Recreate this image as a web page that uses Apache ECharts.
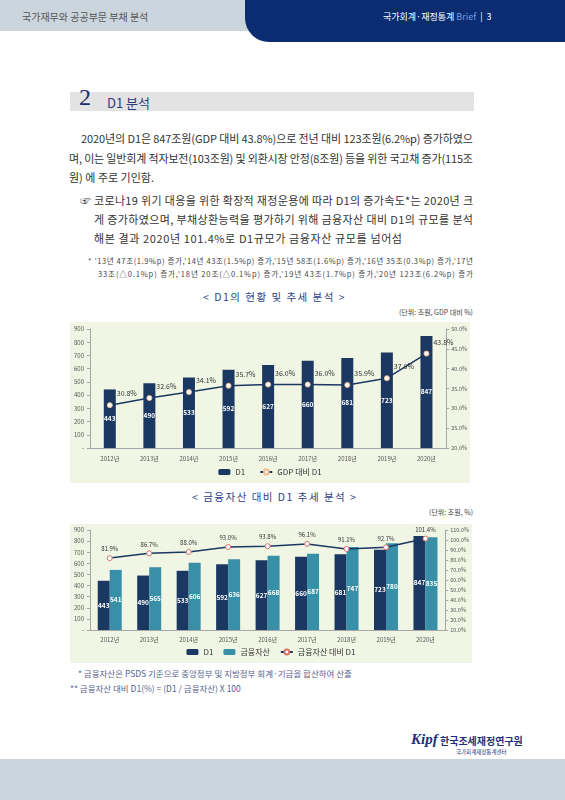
<!DOCTYPE html>
<html>
<head>
<meta charset="utf-8">
<script src="https://cdn.jsdelivr.net/npm/echarts@6/dist/echarts.min.js"></script>
<style>
  body { margin: 0; background: #fff; }
  #page { position: relative; width: 565px; height: 800px; overflow: hidden;
    font-family: "Noto Sans CJK KR", "Noto Sans", sans-serif; color: #333; }
  .abs { position: absolute; white-space: nowrap; }
  .ln { position: absolute; white-space: nowrap; font-size: 11px; line-height: 14px; color: #333; }
  .fn { font-size: 7.5px; line-height: 10px; color: #444; }
  .ttl { font-size: 10.5px; color: #2d3f86; letter-spacing: 1.5px; }
  .unit { font-size: 7px; color: #444; }
  .chart { position: absolute; background: #f1f6e4; }
</style>
</head>
<body>
<div id="page">
  <!-- 머리말 -->
  <div class="abs" style="left:0;top:0;width:262px;height:31px;background:#cbd5de;"></div>
  <div class="abs" style="left:245px;top:0;width:320px;height:42px;background:#0b2c70;border-bottom-left-radius:24px;"></div>
  <div class="abs" style="left:22px;top:9px;font-size:10px;color:#555;">국가재무와 공공부문 부채 분석</div>
  <div class="abs" style="left:383px;top:10px;font-size:9px;color:#fff;">국가회계·재정통계 <span style="color:#6f9fe6;">Brief</span> &nbsp;|&nbsp; 3</div>

  <!-- 절 제목 -->
  <div class="abs" style="left:70px;top:92px;width:404px;height:19px;background:#e3e3e3;"></div>
  <div class="abs" style="left:79px;top:84px;font-size:24px;font-family:'Liberation Serif',serif;color:#1d2c6a;">2</div>
  <div class="abs" style="left:107px;top:93px;font-size:13px;color:#2a3a7a;">D1 분석</div>

  <!-- 본문 -->
  <div class="ln" data-w="392" style="left:81px;top:131px;">2020년의 D1은 847조원(GDP 대비 43.8%)으로 전년 대비 123조원(6.2%p) 증가하였으</div>
  <div class="ln" data-w="404" style="left:69px;top:151px;">며, 이는 일반회계 적자보전(103조원) 및 외환시장 안정(8조원) 등을 위한 국고채 증가(115조</div>
  <div class="ln" style="left:69px;top:170px;">원) 에 주로 기인함.</div>

  <div class="ln" style="left:80px;top:193px;">☞</div>
  <div class="ln" data-w="379" style="left:94px;top:193px;">코로나19 위기 대응을 위한 확장적 재정운용에 따라 D1의 증가속도*는 2020년 크</div>
  <div class="ln" data-w="379" style="left:94px;top:212px;">게 증가하였으며, 부채상환능력을 평가하기 위해 금융자산 대비 D1의 규모를 분석</div>
  <div class="ln" data-w="308" style="left:94px;top:231px;">해본 결과 2020년 101.4%로 D1규모가 금융자산 규모를 넘어섬</div>

  <div class="ln fn" data-w="385" style="left:88px;top:256px;">* ’13년 47조(1.9%p) 증가,’14년 43조(1.5%p) 증가,’15년 58조(1.6%p) 증가,’16년 35조(0.3%p) 증가,’17년</div>
  <div class="ln fn" data-w="375" style="left:98px;top:269px;">33조(△0.1%p) 증가,’18년 20조(△0.1%p) 증가,’19년 43조(1.7%p) 증가,’20년 123조(6.2%p) 증가</div>

  <!-- 그림 1 -->
  <div class="abs ttl" style="left:203px;top:289px;">&lt; D1의 현황 및 추세 분석 &gt;</div>
  <div class="abs unit" style="right:92px;top:307px;">(단위: 조원, GDP 대비 %)</div>
  <div id="c1" class="chart" style="left:70px;top:322px;width:400px;height:161px;"></div>

  <!-- 그림 2 -->
  <div class="abs ttl" style="left:192px;top:489px;">&lt; 금융자산 대비 D1 추세 분석 &gt;</div>
  <div class="abs unit" style="right:92px;top:507px;">(단위: 조원, %)</div>
  <div id="c2" class="chart" style="left:70px;top:524px;width:402px;height:139px;"></div>

  <div class="abs" style="left:78px;top:667px;font-size:8.5px;color:#56638f;">* 금융자산은 PSDS 기준으로 중앙정부 및 지방정부 회계·기금을 합산하여 산출</div>
  <div class="abs" style="left:70px;top:682px;font-size:8.5px;color:#56638f;">** 금융자산 대비 D1(%) = (D1 / 금융자산) X 100</div>

  <!-- 로고 -->
  <div class="abs" style="left:411px;top:731px;font-size:15px;font-weight:bold;font-style:italic;font-family:'Liberation Serif',serif;color:#1b2f7a;">Kipf</div>
  <div class="abs" style="left:440px;top:733px;font-size:10px;font-weight:bold;color:#1b2f7a;">한국조세재정연구원</div>
  <div class="abs" style="left:456px;top:748px;font-size:5.5px;color:#1b2f7a;">국가회계재정통계센터</div>

  <div class="abs" style="left:0;top:759px;width:565px;height:41px;background:#cbd5de;"></div>
</div>

<script>
// 데이터
var years = ['2012년', '2013년', '2014년', '2015년', '2016년', '2017년', '2018년', '2019년', '2020년'];
var d1 = [443, 490, 533, 592, 627, 660, 681, 723, 847];
var gdpRatio = [30.8, 32.6, 34.1, 35.7, 36.0, 36.0, 35.9, 37.6, 43.8];
var finAssets = [541, 565, 606, 636, 668, 687, 747, 780, 835];
var assetRatio = [81.9, 86.7, 88.0, 93.0, 93.8, 96.1, 91.1, 92.7, 101.4];

// 본문 줄 폭 맞추기
document.querySelectorAll('[data-w]').forEach(function (el) {
  var target = +el.getAttribute('data-w');
  var w = el.getBoundingClientRect().width;
  var n = el.textContent.length;
  el.style.letterSpacing = ((target - w) / (n - 1)) + 'px';
});

var navy = '#1b3863';
var teal = '#3790a8';
var axisGray = '#a6a6a6';
var font = '"Noto Sans CJK KR", "Noto Sans", sans-serif';

function leftAxis() {
  return {
    type: 'value', min: 0, max: 900, interval: 100,
    axisLine: { show: true, lineStyle: { color: axisGray } },
    axisTick: { show: true, length: 3, lineStyle: { color: axisGray } },
    splitLine: { show: false },
    axisLabel: { fontSize: 6, color: '#555', margin: 6, fontFamily: font,
      formatter: function (v) { return v === 0 ? '-' : v; } }
  };
}
function rightAxis(min, max, step) {
  return {
    type: 'value', min: min, max: max, interval: step, position: 'right',
    axisLine: { show: true, lineStyle: { color: axisGray } },
    axisTick: { show: true, length: 3, lineStyle: { color: axisGray } },
    splitLine: { show: false },
    axisLabel: { fontSize: 5.5, color: '#555', margin: 5, fontFamily: font,
      formatter: function (v) { return v.toFixed(1) + '%'; } }
  };
}
function catAxis(margin) {
  return {
    type: 'category', data: years,
    axisLine: { lineStyle: { color: axisGray } },
    axisTick: { length: 3, lineStyle: { color: axisGray } },
    axisLabel: { fontSize: 6, color: '#555', margin: margin, fontFamily: font }
  };
}
var barLabel = { show: true, position: 'inside', color: '#fff', fontSize: 6.5, fontWeight: 'bold', fontFamily: font };

// 그림 1: D1 현황
var chart1 = echarts.init(document.getElementById('c1'));
chart1.setOption({
  animation: false,
  textStyle: { fontFamily: font },
  grid: { left: 20, right: 20, top: 7, bottom: 35 },
  legend: {
    bottom: 2, left: 'center', itemWidth: 12, itemHeight: 6, itemGap: 14,
    textStyle: { fontSize: 8, color: '#333' },
    data: ['D1', 'GDP 대비 D1']
  },
  xAxis: catAxis(8),
  yAxis: [leftAxis(), rightAxis(20, 50, 5)],
  series: [
    {
      name: 'D1', type: 'bar', barWidth: 12, data: d1,
      itemStyle: { color: navy }, label: barLabel
    },
    {
      name: 'GDP 대비 D1', type: 'line', yAxisIndex: 1, data: gdpRatio,
      symbol: 'circle', symbolSize: 5,
      lineStyle: { color: navy, width: 1.5 },
      itemStyle: { color: '#fff', borderColor: '#f2b98c', borderWidth: 1 },
      label: { show: true, position: 'top', offset: [17, 0], fontSize: 7, color: '#333',
        formatter: function (p) { return p.value.toFixed(1) + '%'; } }
    }
  ]
});

// 그림 2: 금융자산 대비 D1
var chart2 = echarts.init(document.getElementById('c2'));
chart2.setOption({
  animation: false,
  textStyle: { fontFamily: font },
  grid: { left: 20, right: 22, top: 6, bottom: 33 },
  legend: {
    bottom: 2, left: 'center', itemWidth: 12, itemHeight: 6, itemGap: 10,
    textStyle: { fontSize: 8, color: '#333' },
    data: ['D1', '금융자산', '금융자산 대비 D1']
  },
  xAxis: catAxis(7),
  yAxis: [leftAxis(), rightAxis(10, 110, 10)],
  series: [
    {
      name: 'D1', type: 'bar', barWidth: 12, barGap: '0%', data: d1,
      itemStyle: { color: navy }, label: barLabel
    },
    {
      name: '금융자산', type: 'bar', barWidth: 12, barGap: '0%', data: finAssets,
      itemStyle: { color: teal }, label: barLabel
    },
    {
      name: '금융자산 대비 D1', type: 'line', yAxisIndex: 1, data: assetRatio,
      symbol: 'circle', symbolSize: 5,
      lineStyle: { color: navy, width: 1.5 },
      itemStyle: { color: '#fff', borderColor: '#d6726a', borderWidth: 1 },
      label: { show: true, position: 'top', distance: 3, fontSize: 6, color: '#333',
        formatter: function (p) { return p.value.toFixed(1) + '%'; } }
    }
  ]
});
</script>
</body>
</html>
